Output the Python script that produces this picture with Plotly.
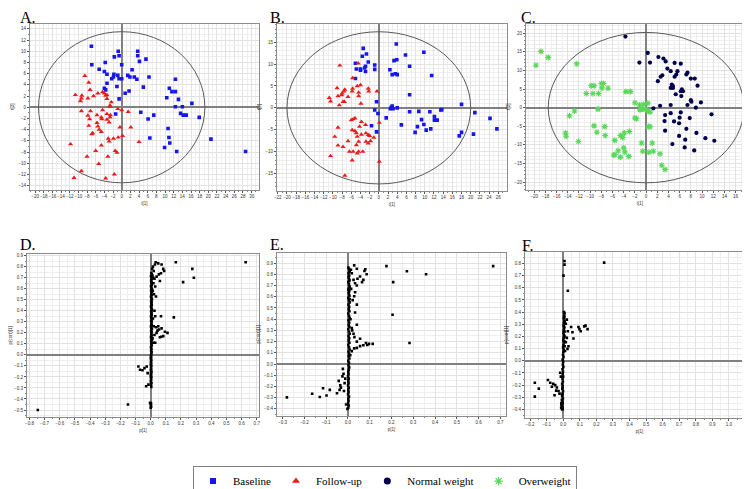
import plotly.graph_objects as go

# ---------------- Panel A: scores (Baseline vs Follow-up) ----------------
A_base_x = [-7.0, -6.9, -5.2, -3.8, -4.0, -3.4, -2.3, -1.9, -1.8, -1.7, -0.8, -0.6, -0.9, -0.6, 0.0, 0.0,
            -3.4, -3.7, -4.0, -1.1, -0.6, 0.8, 1.7, 1.4, 1.9, 2.4, 2.9, 3.5, 3.7, 3.7, 4.1, 5.6, 5.0, 6.3,
            4.4, 7.4, 6.1, 6.5, -1.4, 10.4, 11.0, 11.6, 12.4, 12.4, 13.1, 12.4, 14.0, 13.6, 14.2, 14.9,
            16.2, 17.9, 10.7, 10.9, 11.1, 9.9, 12.7, 20.6, 28.6]
A_base_y = [10.9, 7.6, 6.8, 8.0, 6.4, 5.9, 5.1, 5.4, 5.9, 9.0, 10.0, 9.2, 5.7, 5.1, 7.6, 5.1,
            4.3, 3.1, 3.4, 3.7, 1.5, 2.5, 2.9, 5.7, 5.4, 6.7, 5.4, 5.0, 10.0, 9.2, 8.2, 8.6, 3.6, 5.4,
            -0.9, -1.4, -2.1, -5.5, -1.2, 1.7, 3.4, 2.8, 5.0, 2.8, 1.4, 0.1, 0.1, -1.1, -1.4, -1.4,
            0.7, -1.8, -3.8, -5.4, -6.4, -7.2, -7.9, -5.7, -7.9]
A_fu_x = [-8.5, -7.6, -7.3, -6.5, -7.8, -9.2, -9.3, -9.5, -10.7, -9.3, -7.2, -7.8, -7.4, -7.6, -6.9, -6.7,
          -5.7, -5.7, -5.5, -5.2, -4.6, -4.7, -4.4, -4.0, -3.7, -3.4, -3.4, -2.7, -2.4, -2.7, -4.4, -3.4,
          -3.4, -2.7, -2.9, -2.6, -4.7, -3.1, -2.9, -0.9, 0.0, 1.5, -0.4, 2.1, -0.8, 0.2, -1.9, -4.7,
          -6.0, -3.2, -1.5, -1.1, -5.3, -8.0, -11.8, -9.3, -11.0, -3.7, -1.7, 4.0, -5.5]
A_fu_y = [5.6, 4.4, 3.1, 2.0, 1.6, 2.1, 1.6, 1.1, 2.2, -0.7, -0.7, -1.5, -2.1, -3.3, -4.8, -4.6,
          -1.4, -2.8, -3.4, -4.0, -2.1, -1.8, 2.7, 2.5, 2.1, 1.5, 2.2, 0.1, 0.9, 0.3, -0.5, -1.2,
          -2.2, -1.8, -2.7, -1.4, -4.4, -5.6, -6.1, -0.3, -0.5, -0.8, -3.6, -3.6, -5.4, -5.1, -5.6, -6.8,
          -7.8, -8.8, -7.8, -8.1, -10.1, -8.8, -6.6, -11.4, -12.6, -12.7, -12.0, -6.2, 2.5]
A_ellipse = (19.2, 13.5)

# ---------------- Panel B: scores (Baseline vs Follow-up) ----------------
B_base_x = [-3.4, -3.6, -2.7, -2.3, -2.9, -3.1, -2.9, -5.1, -4.9, -4.0, -4.0, -5.1, -0.9, -0.9, 3.8, 3.3,
            3.9, 5.8, 9.8, 2.4, 2.9, 3.6, 4.0, 6.7, 11.5, 6.7, -0.5, -0.9, -0.2, -1.6, -0.5, 1.6, 2.5,
            2.9, 3.1, 2.7, 4.0, 4.9, 6.7, 7.9, 8.4, 8.7, 9.3, 9.8, 10.3, 11.3, 11.1, 12.1, 12.1, 12.7,
            13.5, 13.7, 18.0, 18.0, 17.5, 20.9, 20.6, 24.2, 25.7]
B_base_y = [13.6, 11.8, 12.3, 10.5, 9.5, 9.1, 8.3, 10.2, 8.9, 8.9, 8.6, 6.7, 9.8, 8.8, 14.6, 10.8,
            11.0, 12.1, 12.7, 8.7, 7.6, 7.8, 7.6, 9.5, 7.4, 3.0, 1.4, -0.5, -1.3, -4.1, -5.5, -2.3, -0.2,
            0.4, -0.2, 0.1, 0.0, -3.9, -0.9, -5.6, -4.3, -0.8, -2.7, -3.8, -5.1, -4.8, -0.9, -2.0, -2.8, -2.8,
            -0.5, -0.4, 0.8, -5.6, -6.4, -1.1, -6.0, -2.4, -4.8]
B_fu_x = [-4.5, -8.5, -5.7, -9.1, -7.4, -7.6, -8.0, -8.1, -8.9, -10.8, -10.5, -8.6, -7.5, -7.8, -6.7, -5.7,
          -5.8, -4.7, -4.0, -4.4, -4.4, -3.9, -2.3, -2.2, -0.4, 0.1, 0.1, -8.9, -9.6, -8.9, -7.8, -10.5,
          -7.4, -6.0, -5.6, -5.2, -5.8, -5.2, -4.9, -4.7, -4.2, -3.8, -3.8, -2.9, -2.8, -2.3, -2.0, -1.8,
          -1.1, -2.8, -2.3, -6.7, -6.4, -5.6, -4.9, -4.7, -4.4, -3.5, -5.8, -4.4]
B_fu_y = [10.2, 9.7, 6.8, 4.5, 4.2, 3.8, 3.3, 2.9, 2.7, 2.3, 1.5, 0.6, 1.4, 1.4, 2.5, 4.4,
          3.8, 5.0, 5.2, 3.5, 2.7, 1.0, 4.4, 3.8, 3.8, -3.4, -12.3, -4.5, -6.6, -8.6, -8.9, -11.0,
          -15.5, -2.8, -2.6, -2.4, -5.1, -5.3, -5.8, -6.6, -4.3, -3.2, -6.1, -3.9, -5.8, -6.2, -6.4, -7.6,
          -6.8, -7.7, -8.1, -7.6, -10.0, -10.0, -8.5, -10.4, -10.0, -10.0, -12.0, -7.7]
B_ellipse = (20.0, 17.4)

# ---------------- Panel C: scores (Normal weight vs Overweight) ----------------
C_norm_x = [-3.7, 0.3, -1.2, 0.7, 2.2, 3.1, 3.5, 5.1, 6.2, 3.8, 4.4, 5.6, 5.4, 5.1, 2.9, 2.6, 2.1, 4.6,
            4.8, 4.4, 4.8, 7.2, 8.0, 8.7, 7.4, 9.2, 6.4, 6.6, 6.2, 5.3, 6.3, 8.0, 8.1, 9.8, 2.5, 4.4,
            1.3, 7.4, 8.9, 3.4, 4.4, 6.2, 6.0, 7.8, 11.7, 3.3, 5.0, 5.9, 3.4, 7.2, 9.0, 5.9, 4.7,
            7.0, 6.9, 8.6, 10.6, 12.2]
C_norm_y = [19.1, 14.7, 12.1, 12.1, 13.6, 13.2, 12.4, 12.0, 11.8, 10.5, 9.8, 9.8, 8.9, 8.3, 8.7, 8.3, 7.1, 6.2,
            5.8, 5.3, 5.3, 8.9, 7.8, 7.8, 9.4, 5.9, 4.9, 4.4, 4.4, 3.6, 3.1, 2.0, 1.6, 1.4, 0.5, 0.7,
            -0.2, 0.7, 0.0, -2.0, -1.5, -1.3, -2.7, -2.8, -1.8, -3.6, -3.7, -4.2, -6.2, -5.7, -6.8, -7.6, -9.8,
            -8.6, -10.7, -11.5, -8.2, -8.9]
C_over_x = [-19.7, -18.8, -17.5, -12.4, -10.7, -9.8, -9.3, -9.5, -8.5, -8.0, -7.6, -7.9, -6.8, -3.6, -2.8,
            -8.6, -2.0, -1.2, -0.9, -0.5, -0.1, 0.3, 0.3, 0.7, -1.1, -0.6, -2.0, -1.7, -12.8, -13.7, -9.3,
            -8.8, -7.4, -7.3, -14.4, -14.3, -12.1, -4.6, -4.2, -3.9, -3.0, -5.6, -5.0, -5.6, -5.8, -4.6,
            -4.0, -3.8, -3.1, -0.8, -0.6, 0.4, 0.7, 1.1, 1.3, 0.5, 2.5, 2.8, 3.4]
C_over_y = [11.4, 15.1, 13.5, 11.8, 3.8, 5.9, 5.9, 3.8, 3.8, 6.5, 6.5, 5.3, 5.2, 4.3, 4.3,
            -0.4, 1.3, 0.7, -0.4, 0.9, -0.4, 1.2, -0.9, -1.2, -0.6, -0.4, -2.8, -3.0, -0.9, -2.2, -4.9,
            -6.6, -5.1, -7.5, -6.8, -7.7, -9.1, -7.5, -8.0, -6.8, -6.4, -8.8, -11.6, -12.6, -12.8, -13.3,
            -10.8, -11.9, -13.1, -9.5, -11.7, -5.1, -5.1, -9.5, -11.7, -12.0, -12.4, -15.5, -16.6]
C_ellipse = (17.5, 20.2)

# ---------------- Panel D: loadings ----------------
D_x = [0.166, 0.627, 0.275, 0.285, 0.214, 0.153, -0.745, -0.150,
       0.033, 0.050, 0.072, 0.083, 0.089, 0.068, 0.054, 0.039, 0.061, 0.028, 0.015, 0.020, 0.012, 0.025,
       0.018, 0.030, 0.014, 0.022, 0.035, 0.010, 0.017,
       0.030, 0.015, 0.068, 0.020, 0.035, 0.050, 0.072, 0.094, 0.111, 0.083, 0.061, 0.039, 0.045, 0.025,
       0.020, 0.030, 0.012, 0.055, 0.070, 0.025,
       -0.081, -0.070, -0.054, -0.041, -0.026, -0.020, -0.030, -0.015, -0.004, 0.000,
       0.003, 0.001, 0.002, 0.004, 0.002, 0.005, 0.001, 0.003, 0.002, 0.004, 0.001, 0.003, 0.002, 0.005,
       0.001, 0.003, 0.002, 0.004, 0.001, 0.003, 0.002, 0.004, 0.001, 0.003, 0.002, 0.004, 0.006, 0.003,
       0.005, 0.002, 0.007, 0.004, 0.006, 0.003, 0.008, 0.005, 0.002, 0.007, 0.004, 0.006, 0.003, 0.008,
       0.005, 0.002, 0.007, 0.004, 0.006, 0.003, 0.008, 0.005, 0.002, 0.007, 0.004, 0.006, 0.003, 0.008,
       0.005, 0.002, 0.007, 0.004, 0.006, 0.003, 0.008, 0.005, 0.002, 0.007, 0.004, 0.006, 0.003, 0.008,
       0.005, 0.002, 0.007, 0.004, 0.006, 0.003, 0.008, 0.005, 0.002, 0.007, 0.004]
D_y = [0.84, 0.84, 0.78, 0.70, 0.66, 0.34, -0.50, -0.45,
       0.84, 0.83, 0.82, 0.78, 0.76, 0.74, 0.73, 0.71, 0.67, 0.82, 0.80, 0.76, 0.72, 0.69,
       0.65, 0.62, 0.58, 0.55, 0.53, 0.78, 0.70,
       0.35, 0.33, 0.35, 0.26, 0.25, 0.26, 0.24, 0.21, 0.20, 0.17, 0.16, 0.20, 0.22, 0.18,
       0.11, 0.11, 0.15, 0.23, 0.165, 0.40,
       -0.105, -0.135, -0.14, -0.12, -0.105, -0.165, -0.285, -0.27, -0.435, -0.48,
       -0.47, -0.455, -0.44, -0.29, -0.27, -0.255, -0.24, -0.225, -0.21, -0.20, -0.19, -0.178, -0.165, -0.152,
       -0.14, -0.128, -0.115, -0.10, -0.088, -0.075, -0.06, -0.045, -0.032, -0.018, -0.005, 0.01, 0.025, 0.04,
       0.055, 0.07, 0.085, 0.10, 0.112, 0.125, 0.138, 0.15, 0.163, 0.176, 0.19, 0.205, 0.218, 0.232,
       0.245, 0.258, 0.27, 0.283, 0.297, 0.31, 0.322, 0.335, 0.348, 0.36, 0.372, 0.385, 0.398, 0.41,
       0.425, 0.438, 0.45, 0.463, 0.476, 0.49, 0.503, 0.517, 0.53, 0.543, 0.556, 0.57, 0.583, 0.596,
       0.61, 0.623, 0.636, 0.65, 0.663, 0.676, 0.69, 0.703, 0.716, 0.73, 0.743]

# ---------------- Panel E: loadings ----------------
E_x = [0.177, 0.667, 0.271, 0.359, 0.208, 0.205, 0.283,
       0.029, 0.041, 0.080, 0.076, 0.086, 0.056, 0.044, 0.026, 0.071, 0.065, 0.033, 0.018, 0.041, 0.033,
       0.029, 0.041, 0.033, 0.041, 0.018, 0.026, 0.030, 0.056, 0.041, 0.083, 0.089, 0.097, 0.114, 0.071,
       0.056, 0.041, 0.029, 0.018, 0.011, 0.022, 0.015, 0.012, 0.020, 0.014,
       -0.023, -0.020, -0.025, -0.042, -0.035, -0.038, -0.032, -0.050, -0.083, -0.114, -0.164, -0.129,
       -0.098, -0.280, -0.008, -0.002, -0.015, -0.012, -0.018,
       0.002, 0.004, 0.001, 0.003, 0.002, 0.005, 0.001, 0.003, 0.002, 0.004, 0.001, 0.003, 0.002, 0.004,
       0.001, 0.003, 0.002, 0.004, 0.006, 0.003, 0.005, 0.002, 0.007, 0.004, 0.006, 0.003, 0.008, 0.005,
       0.002, 0.007, 0.004, 0.006, 0.003, 0.008, 0.005, 0.002, 0.007, 0.004, 0.006, 0.003, 0.008, 0.005,
       0.002, 0.007, 0.004, 0.006, 0.003, 0.008, 0.005, 0.002, 0.007, 0.004, 0.006, 0.003, 0.008, 0.005,
       0.002, 0.007, 0.004, 0.006, 0.003, 0.008, 0.005, 0.002, 0.007, 0.004, 0.006, 0.003, 0.008]
E_y = [0.873, 0.873, 0.827, 0.80, 0.73, 0.44, 0.187,
       0.88, 0.85, 0.845, 0.83, 0.80, 0.78, 0.76, 0.75, 0.75, 0.73, 0.72, 0.81, 0.70, 0.64,
       0.605, 0.53, 0.46, 0.35, 0.32, 0.27, 0.24, 0.225, 0.20, 0.187, 0.17, 0.18, 0.18, 0.167,
       0.16, 0.144, 0.14, 0.115, 0.078, 0.57, 0.67, 0.40, 0.30, 0.84,
       -0.043, -0.086, -0.11, -0.15, -0.19, -0.23, -0.21, -0.26, -0.23, -0.216, -0.265, -0.294,
       -0.28, -0.297, -0.36, -0.40, -0.17, -0.13, -0.24,
       -0.39, -0.37, -0.35, -0.33, -0.31, -0.29, -0.27, -0.25, -0.23, -0.21, -0.19, -0.17, -0.15, -0.13,
       -0.11, -0.09, -0.07, -0.05, -0.03, -0.01, 0.01, 0.03, 0.05, 0.07, 0.09, 0.11, 0.13, 0.15,
       0.17, 0.19, 0.21, 0.23, 0.25, 0.27, 0.29, 0.31, 0.33, 0.35, 0.37, 0.39, 0.41, 0.43,
       0.45, 0.47, 0.49, 0.51, 0.53, 0.55, 0.57, 0.59, 0.61, 0.63, 0.65, 0.67, 0.69, 0.71,
       0.73, 0.75, 0.77, 0.79, 0.81, 0.83, 0.85, 0.86, 0.82, 0.78, 0.74, 0.66, 0.58]

# ---------------- Panel F: loadings ----------------
F_x = [1.092, 0.247, 0.008, 0.008, 0.002, 0.028, 0.092, 0.098, 0.106, 0.127, 0.135, 0.147, 0.048, 0.056,
       0.062, 0.022, 0.016, 0.028, 0.022, 0.032, 0.026, 0.016,
       -0.171, -0.147, -0.171, -0.092, -0.078, -0.068, -0.060, -0.048, -0.038, -0.042, -0.028, -0.022,
       -0.052, -0.018, -0.014, -0.008, -0.012, -0.010, -0.004,
       -0.006, -0.004, -0.007, -0.003, -0.005, -0.002, -0.006, -0.004, -0.001, -0.005, -0.003, -0.006,
       -0.002, -0.004, 0.000, -0.003, -0.001, -0.004, 0.001, -0.002, 0.000, -0.003, 0.002, -0.001,
       0.001, 0.003, 0.000, 0.002, 0.004, 0.001, 0.003, 0.005, 0.002, 0.004, 0.006, 0.003, 0.005,
       0.007, 0.004, 0.006, 0.008, 0.005, 0.007, 0.009, 0.006, 0.008, 0.010, 0.007, 0.009, 0.011,
       -0.008, -0.011, -0.006, -0.009, -0.003]
F_y = [0.82, 0.807, 0.82, 0.79, 0.70, 0.575, 0.278, 0.26, 0.243, 0.283, 0.289, 0.26, 0.278, 0.234,
       0.183, 0.338, 0.305, 0.243, 0.188, 0.12, 0.098, 0.153,
       -0.18, -0.229, -0.294, -0.158, -0.18, -0.213, -0.19, -0.20, -0.22, -0.245, -0.248, -0.27,
       -0.283, -0.098, -0.13, -0.343, -0.384, -0.36, -0.395,
       -0.40, -0.38, -0.37, -0.35, -0.33, -0.31, -0.29, -0.27, -0.25, -0.23, -0.21, -0.19,
       -0.17, -0.15, -0.13, -0.11, -0.09, -0.07, -0.05, -0.03, -0.01, 0.01, 0.03, 0.05,
       0.07, 0.09, 0.11, 0.13, 0.15, 0.17, 0.19, 0.21, 0.23, 0.25, 0.27, 0.29, 0.31,
       0.33, 0.35, 0.37, 0.39, 0.40, 0.36, 0.32, 0.28, 0.24, 0.20, 0.16, 0.12, 0.08,
       -0.32, -0.35, -0.28, -0.39, -0.22]

# Legend entries
LEGEND_NAMES = ["Baseline", "Follow-up", "Normal weight", "Overweight"]

# ---------------- Styling ----------------
BLUE = "#1515ee"
RED = "#e81c1c"
NAVY = "#00004d"
GREEN = "#5ad85a"
BLACK = "#000000"

fig = go.Figure()


def scatter(xs, ys, ax, name, color, symbol, size, group, lw=0.0, show=False):
    fig.add_trace(go.Scatter(
        x=xs, y=ys, mode="markers", name=name, legendgroup=group, showlegend=show,
        xaxis="x" + ax, yaxis="y" + ax,
        marker=dict(symbol=symbol, size=size, color=color,
                    line=dict(color=color, width=lw)),
    ))


scatter(A_base_x, A_base_y, "", "Baseline", BLUE, "square", 3.6, "base")
scatter(A_fu_x, A_fu_y, "", "Follow-up", RED, "triangle-up", 4.6, "fu")
scatter(B_base_x, B_base_y, "2", "Baseline", BLUE, "square", 3.6, "base")
scatter(B_fu_x, B_fu_y, "2", "Follow-up", RED, "triangle-up", 4.6, "fu")
scatter(C_norm_x, C_norm_y, "3", "Normal weight", NAVY, "circle", 4.2, "norm")
scatter(C_over_x, C_over_y, "3", "Overweight", GREEN, "asterisk", 5, "over", lw=1.1)
scatter(D_x, D_y, "4", "D loadings", BLACK, "square", 2.6, "d")
scatter(E_x, E_y, "5", "E loadings", BLACK, "square", 2.6, "e")
scatter(F_x, F_y, "6", "F loadings", BLACK, "square", 2.6, "f")

# legend-only entries (slightly larger symbols, as in the reference key)
legend_styles = [(BLUE, "square", 6, 0), (RED, "triangle-up", 7, 0),
                 (NAVY, "circle", 7, 0), (GREEN, "asterisk", 7, 1.3)]
for name, (color, symbol, size, lw) in zip(LEGEND_NAMES, legend_styles):
    scatter([None], [None], "", name, color, symbol, size, name, lw=lw, show=True)

tickfont = dict(size=4.5, color="#333333", family="Liberation Sans")


def axis(domain, rng, dtick, minor_dtick, title, anchor, fmt=None):
    d = dict(domain=domain, range=rng, dtick=dtick, anchor=anchor, tickangle=0,
             showline=True, linecolor="#8c8c8c", linewidth=1, mirror=True,
             showgrid=True, gridcolor="#e2e2e2", gridwidth=1,
             zeroline=True, zerolinecolor="#808080", zerolinewidth=1.5,
             ticks="outside", ticklen=2, tickwidth=0.6, tickcolor="#555555",
             tickfont=tickfont,
             minor=dict(dtick=minor_dtick, showgrid=True, gridcolor="#efefef",
                        ticks="outside", ticklen=1, tickcolor="#888888"),
             title=dict(text=title, font=dict(size=4.5, color="#333333"), standoff=3))
    if fmt:
        d["tickformat"] = fmt
    return d


H = 489.0
W = 750.0


def xd(a, b):
    return [a / W, b / W]


def yd(top, bottom):
    return [1 - bottom / H, 1 - top / H]


layout_axes = dict(
    xaxis=axis(xd(17, 248), [-21.2, 31.7], 2, 1, "t[1]", "y"),
    yaxis=axis(yd(15, 182), [-14.7, 14.9], 2, 1, "t[2]", "x"),
    xaxis2=axis(xd(266, 498), [-22.2, 27.9], 2, 1, "t[1]", "y2"),
    yaxis2=axis(yd(15, 183), [-18.9, 19.2], 5, 1, "t[2]", "x2"),
    xaxis3=axis(xd(517, 747), [-21.5, 19.3], 2, 1, "t[1]", "y3"),
    yaxis3=axis(yd(15, 182), [-22.0, 22.5], 5, 1, "t[2]", "x3"),
    xaxis4=axis(xd(14, 248), [-0.817, 0.715], 0.1, 0.05, "p[1]", "y4", ".1f"),
    yaxis4=axis(yd(247, 411), [-0.56, 0.915], 0.1, 0.05, "p(corr)[1]", "x4", ".1f"),
    xaxis5=axis(xd(266, 497), [-0.326, 0.726], 0.1, 0.05, "p[1]", "y5", ".1f"),
    yaxis5=axis(yd(246, 410), [-0.46, 0.99], 0.1, 0.05, "p(corr)[1]", "x5", ".1f"),
    xaxis6=axis(xd(516, 747), [-0.231, 1.151], 0.1, 0.05, "p[1]", "y6", ".1f"),
    yaxis6=axis(yd(245, 412), [-0.467, 0.894], 0.1, 0.05, "p(corr)[1]", "x6", ".1f"),
)

shapes = []
for ax, (a, b) in (("", A_ellipse), ("2", B_ellipse), ("3", C_ellipse)):
    shapes.append(dict(type="circle", xref="x" + ax, yref="y" + ax,
                       x0=-a, x1=a, y0=-b, y1=b,
                       line=dict(color="#5a5a5a", width=1)))

titles = [("A.", 5, 9), ("B.", 257, 9), ("C.", 510, 9),
          ("D.", 5, 237), ("E.", 257, 237), ("F.", 511, 238)]
annotations = [dict(text=t, x=x / W, y=1 - y / H, xref="paper", yref="paper",
                    xanchor="left", yanchor="middle", showarrow=False,
                    font=dict(family="Liberation Serif", size=16, color="black"))
               for t, x, y in titles]

fig.update_layout(
    width=750, height=489,
    margin=dict(l=0, r=0, t=0, b=0),
    paper_bgcolor="white", plot_bgcolor="white",
    font=dict(family="Liberation Sans", color="#333333"),
    shapes=shapes, annotations=annotations,
    legend=dict(orientation="h", x=0.5, xanchor="center", y=1 - 476 / H, yanchor="middle",
                bordercolor="#808080", borderwidth=1, bgcolor="white",
                font=dict(family="Liberation Serif", size=11, color="black"),
                itemwidth=30, tracegroupgap=0),
    **layout_axes,
)

fig.write_html("out.html")
